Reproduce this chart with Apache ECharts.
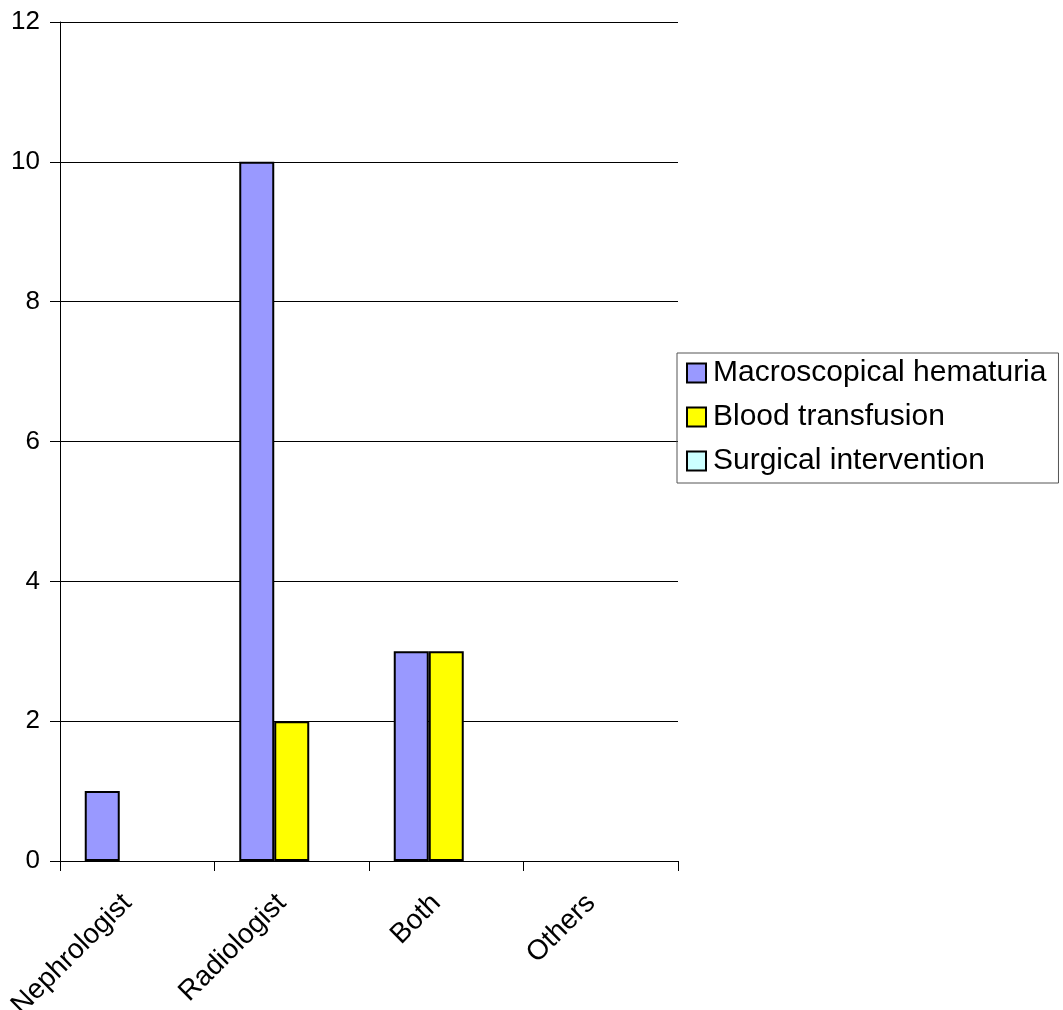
<!DOCTYPE html>
<html>
<head>
<meta charset="utf-8">
<script src="https://cdn.jsdelivr.net/npm/echarts@6/dist/echarts.min.js"></script>
<style>html,body{margin:0;padding:0;background:#fff;}#c{width:1063px;height:1010px;}</style>
</head>
<body>
<div id="c"></div>
<script>
const categories = ['Nephrologist', 'Radiologist', 'Both', 'Others'];
const macroscopicalHematuria = [1, 10, 3, 0];
const bloodTransfusion = [0, 2, 3, 0];
const surgicalIntervention = [0, 0, 0, 0];
const seriesNames = ['Macroscopical hematuria', 'Blood transfusion', 'Surgical intervention'];
const seriesColors = ['#9999FF', '#FFFF00', '#CCFFFF'];

const FONT = "'Liberation Sans', Arial, sans-serif";
const chart = echarts.init(document.getElementById('c'));
const data = [macroscopicalHematuria, bloodTransfusion, surgicalIntervention];
chart.setOption({
  animation: false,
  backgroundColor: '#fff',
  textStyle: { fontFamily: FONT },
  grid: { left: 60, right: 385, top: 22, bottom: 149, containLabel: false, outerBoundsMode: 'none' },
  legend: {
    orient: 'vertical',
    left: 677, top: 353,
    padding: [5, 12, 7, 9],
    itemGap: 14,
    itemWidth: 19, itemHeight: 19,
    icon: 'rect',
    borderColor: '#555', borderWidth: 1,
    itemStyle: { borderColor: '#000', borderWidth: 2 },
    textStyle: { fontFamily: FONT, fontSize: 30, color: '#000', lineHeight: 30, padding: [0, 0, 0, 2] },
    data: seriesNames
  },
  xAxis: {
    type: 'category',
    data: categories,
    axisLine: { lineStyle: { color: '#000', width: 1 } },
    axisTick: { show: true, length: 10, lineStyle: { color: '#000' } },
    axisLabel: { rotate: 45, margin: 28, padding: [0, 14, 0, 0], fontSize: 28, color: '#000', fontFamily: FONT, interval: 0 },
    splitLine: { show: false }
  },
  yAxis: {
    type: 'value',
    min: 0, max: 12, interval: 2,
    axisLine: { show: true, lineStyle: { color: '#000', width: 1 } },
    axisTick: { show: true, length: 10, lineStyle: { color: '#000' } },
    axisLabel: { margin: 20, fontSize: 26, color: '#000', fontFamily: FONT },
    splitLine: { show: true, lineStyle: { color: '#000', width: 1 } }
  },
  series: seriesNames.map((n, i) => ({
    name: n,
    type: 'bar',
    data: data[i].map(v => (v === 0 ? { value: v, itemStyle: { borderWidth: 0 } } : v)),
    barWidth: 35,
    barGap: '0%',
    itemStyle: { color: seriesColors[i], borderColor: '#000', borderWidth: 2 }
  }))
});
</script>
</body>
</html>
